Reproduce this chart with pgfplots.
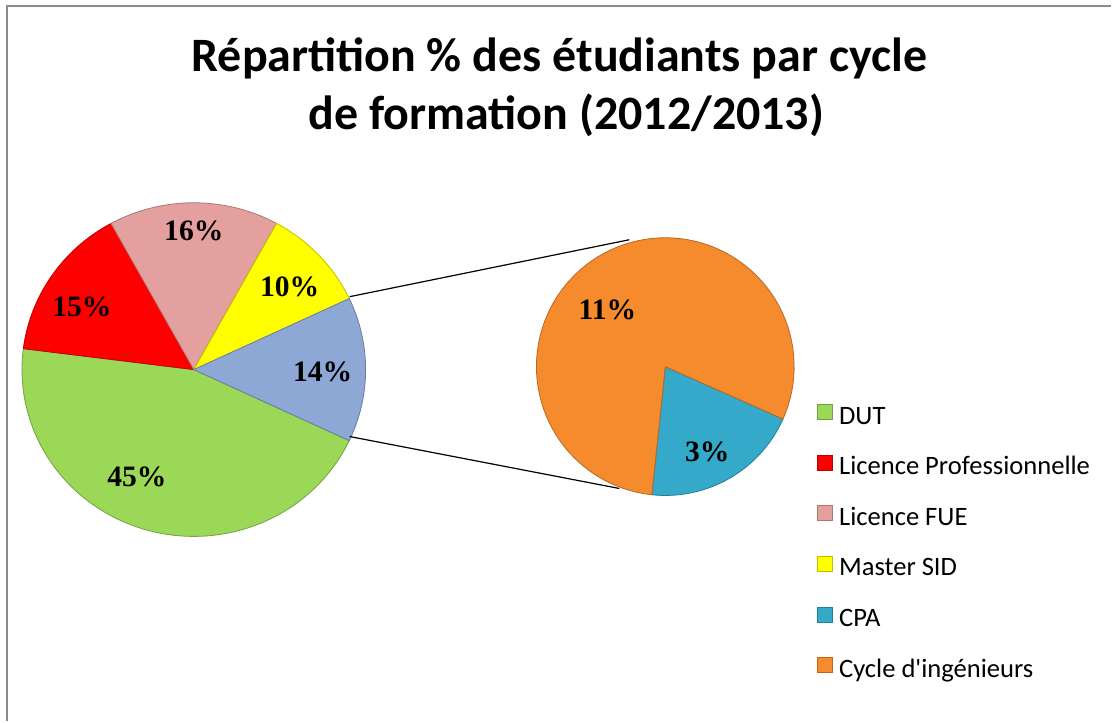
\documentclass[border=0pt]{standalone}
\usepackage{pgfplots}
\pgfplotsset{compat=1.18}
\usepackage{fontspec}
\setmainfont{Carlito}[Ligatures=TeXOff]
\newfontfamily\tnr{Liberation Serif}
\definecolor{cDUT}{HTML}{9BD858}
\definecolor{cLP}{HTML}{FF0000}
\definecolor{cFUE}{HTML}{E4A09E}
\definecolor{cSID}{HTML}{FFFF00}
\definecolor{cAUT}{HTML}{8EA8D6}
\definecolor{cCPA}{HTML}{34A9C9}
\definecolor{cING}{HTML}{F58B2D}
\definecolor{frame}{HTML}{8C8C8C}
% percentages: DUT 45, LP 15, FUE 16, SID 10, others 14 (CPA 3, Ing 11)
\newcommand{\pieslice}[8][]{%
\addplot[#1, fill=#8, draw=#8!75!black, line width=0.4pt, domain=#6:#7, samples=90, variable=\t]
 ({#2+#4*cos(\t)},{#3+#5*sin(\t)}) -- (axis cs:#2,#3) -- cycle;}
\begin{document}
\begin{tikzpicture}
\begin{axis}[
  x=0.5pt, y=0.5pt, xmin=0, xmax=1112, ymin=0, ymax=722,
  scale only axis, hide axis, clip=false,
  legend style={at={(axis cs:818,319)}, anchor=north west, draw=none, fill=none,
    inner sep=0pt, outer sep=0pt, row sep=11.6pt, font=\fontsize{13.3}{15}\selectfont,
    nodes={inner sep=0pt, text height=9.5pt, text depth=3pt}},
  legend cell align=left,
  legend image code/.code={\path[draw=none, fill=none] (0pt,0pt) (11pt,7.5pt);
    \fill[#1, overlay] (0pt,-1pt) rectangle (7.5pt,6.5pt);},
]
\fill[white] (axis cs:0,0) rectangle (axis cs:1112,722);
\draw[frame, line width=1.2pt] (axis cs:7,0) -- (axis cs:7,716) -- (axis cs:1112,716);
% main pie (centre 194,352)
\pieslice{194}{352}{172}{167}{172.8}{334.8}{cDUT}
\addlegendentry{DUT}
\pieslice{194}{352}{172}{167}{118.8}{172.8}{cLP}
\addlegendentry{Licence Professionnelle}
\pieslice{194}{352}{172}{167}{61.2}{118.8}{cFUE}
\addlegendentry{Licence FUE}
\pieslice{194}{352}{172}{167}{25.2}{61.2}{cSID}
\addlegendentry{Master SID}
% secondary pie (centre 666,355)
\pieslice{666}{355}{129}{129}{-96}{-24}{cCPA}
\addlegendentry{CPA}
\pieslice{666}{355}{129}{129}{-24}{264}{cING}
\addlegendentry{Cycle d'ingénieurs}
\pieslice[forget plot]{194}{352}{172}{167}{-25.2}{25.2}{cAUT}
% connector lines
\draw[black, line width=0.6pt] (axis cs:350,425) -- (axis cs:630,482);
\draw[black, line width=0.6pt] (axis cs:350,285) -- (axis cs:620,233);
% labels
\begin{scope}[every node/.style={font=\tnr\bfseries\fontsize{14.8}{17}\selectfont}]
\node at (axis cs:137,245) {45\%};
\node at (axis cs:82,415) {15\%};
\node at (axis cs:194,491) {16\%};
\node at (axis cs:290,435) {10\%};
\node at (axis cs:323,350) {14\%};
\node at (axis cs:608,412) {11\%};
\node at (axis cs:708,270) {3\%};
\end{scope}
% title
\node[anchor=base, font=\bfseries\fontsize{24}{28}\selectfont] at (axis cs:560,650) {Répartition \% des étudiants par cycle};
\node[anchor=base, font=\bfseries\fontsize{24}{28}\selectfont] at (axis cs:567,592) {de formation (2012/2013)};
\end{axis}
\end{tikzpicture}
\end{document}
